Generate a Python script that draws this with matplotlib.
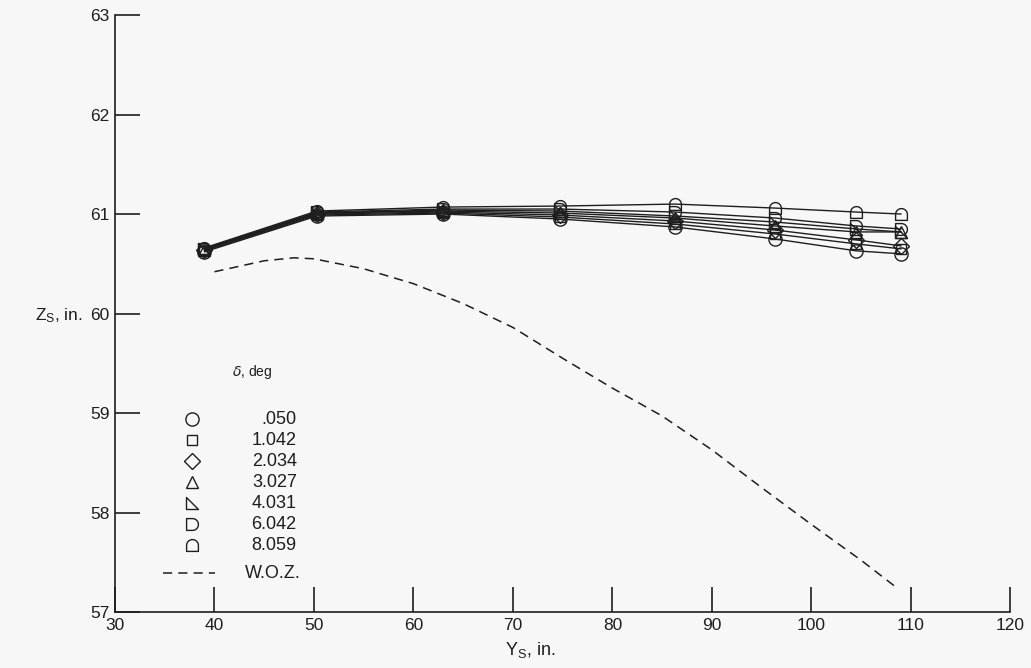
import numpy as np
import matplotlib
matplotlib.use('Agg')
import matplotlib.pyplot as plt
from matplotlib.path import Path

plt.rcParams['font.family'] = ['Liberation Sans', 'DejaVu Sans']
plt.rcParams['mathtext.default'] = 'regular'

# stations along the span, in.
ys = [39.0, 50.3, 63.0, 74.7, 86.3, 96.3, 104.5, 109.0]

delta_labels = ['.050', '1.042', '2.034', '3.027', '4.031', '6.042', '8.059']
zs_050 = [60.62, 60.98, 61.00, 60.95, 60.87, 60.75, 60.63, 60.60]
zs_1042 = [60.63, 60.99, 61.01, 60.97, 60.90, 60.80, 60.70, 60.65]
zs_2034 = [60.64, 61.00, 61.02, 60.99, 60.93, 60.84, 60.74, 60.68]
zs_3027 = [60.64, 61.01, 61.03, 61.01, 60.96, 60.88, 60.82, 60.82]
zs_4031 = [60.65, 61.01, 61.04, 61.03, 60.98, 60.92, 60.85, 60.82]
zs_6042 = [60.65, 61.02, 61.05, 61.05, 61.02, 60.96, 60.88, 60.85]
zs_8059 = [60.66, 61.03, 61.07, 61.08, 61.10, 61.06, 61.02, 61.00]
zs_all = [zs_050, zs_1042, zs_2034, zs_3027, zs_4031, zs_6042, zs_8059]

# without zeppelin (W.O.Z.)
woz_y = [40, 45, 48, 50, 55, 60, 65, 70, 75, 80, 85, 90, 95, 100, 105, 108.5]
woz_z = [60.42, 60.53, 60.56, 60.55, 60.45, 60.30, 60.10, 59.86, 59.55,
         59.25, 58.97, 58.63, 58.25, 57.88, 57.52, 57.25]

#%% marker shapes
def rtri_path():
    return Path([(-1, 1), (-1, -1), (1, -1), (-1, 1)], closed=True)

def dright_path():
    t = np.linspace(np.pi / 2, -np.pi / 2, 30)
    v = [(-1, -1), (-1, 1), (0, 1)] + list(zip(np.cos(t), np.sin(t))) + [(0, -1), (-1, -1)]
    return Path(v, closed=True)

def dup_path():
    t = np.linspace(0, np.pi, 30)
    v = [(-1, -1), (1, -1), (1, 0)] + list(zip(np.cos(t), np.sin(t))) + [(-1, 0), (-1, -1)]
    return Path(v, closed=True)

markers = ['o', 's', 'D', '^', rtri_path(), dright_path(), dup_path()]
msizes = [9.5, 7.5, 8.5, 9, 8.5, 8.5, 8.5]

#%%
fig = plt.figure(figsize=(10.31, 6.68), dpi=100)
fig.patch.set_facecolor('#f7f7f7')
ax = fig.add_axes([0.1115, 0.0838, 0.8685, 0.8937])
ax.set_facecolor('#f7f7f7')

ink = '#1e1e1e'
for zs, m, ms in zip(zs_all, markers, msizes):
    ax.plot(ys, zs, color=ink, lw=1.0, marker=m, markersize=ms,
            markerfacecolor='none', markeredgecolor=ink, markeredgewidth=1.0)

ax.plot(woz_y, woz_z, color=ink, lw=1.1, dashes=(6, 4))

ax.set_xlim(30, 120)
ax.set_ylim(57, 63)
ax.set_xticks(np.arange(30, 121, 10))
ax.set_yticks(np.arange(57, 64, 1))
ax.spines['top'].set_visible(False)
ax.spines['right'].set_visible(False)
for s in ['left', 'bottom']:
    ax.spines[s].set_color(ink)
    ax.spines[s].set_linewidth(1.2)
ax.tick_params(direction='in', length=18, width=1.2, color=ink,
               labelsize=12.5, labelcolor=ink, pad=4)

fig.text(0.034, 0.527, '$Z_S$, in.', fontsize=12.5, color=ink, ha='left', va='center')
fig.text(0.514, 0.027, '$Y_S$, in.', fontsize=13, color=ink, ha='center', va='center')

# legend drawn by hand
ax.text(0.131, 0.402, r'$\it{\delta}$, deg', fontsize=10, color=ink,
        transform=ax.transAxes, ha='left', va='center')
for i, (lab, m, ms) in enumerate(zip(delta_labels, markers, msizes)):
    yy = 0.323 - i * 0.0352
    ax.plot([0.086], [yy], transform=ax.transAxes, marker=m, markersize=ms,
            markerfacecolor='none', markeredgecolor=ink, markeredgewidth=1.0,
            linestyle='none', clip_on=False)
    ax.text(0.203, yy, lab, fontsize=13, color=ink, transform=ax.transAxes,
            ha='right', va='center')
ax.plot([0.054, 0.112], [0.065, 0.065], transform=ax.transAxes, color=ink,
        lw=1.1, dashes=(6, 4))
ax.text(0.207, 0.065, 'W.O.Z.', fontsize=13, color=ink, transform=ax.transAxes,
        ha='right', va='center')

fig.savefig('out.png', dpi=100, facecolor=fig.get_facecolor())
